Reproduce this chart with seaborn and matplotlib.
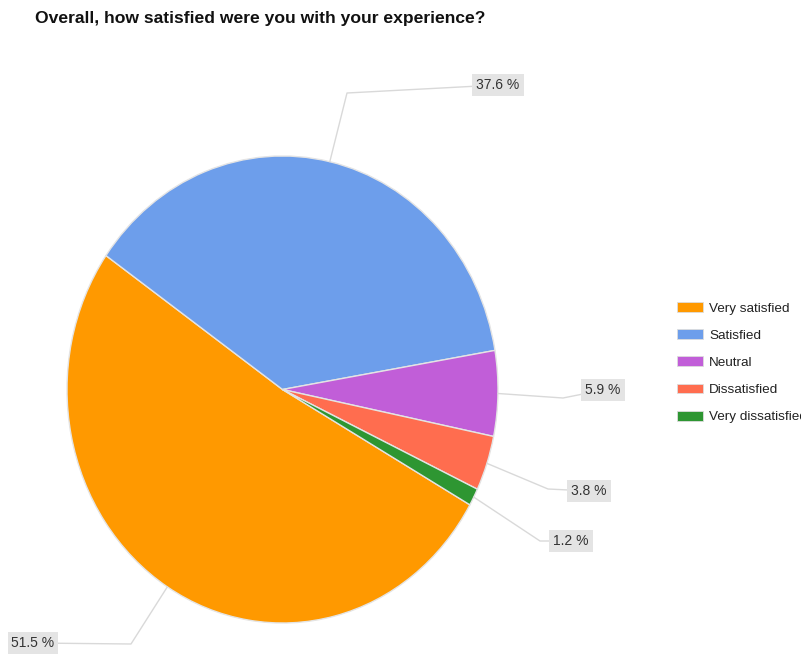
import matplotlib
matplotlib.use("Agg")
import matplotlib.pyplot as plt
import matplotlib.patches as mpatches
import numpy as np
import seaborn as sns

TITLE = "Overall, how satisfied were you with your experience?"
categories = ["Very satisfied", "Satisfied", "Neutral", "Dissatisfied", "Very dissatisfied"]
shares = [51.5, 37.6, 5.9, 3.8, 1.2]
colors = ["#ff9900", "#6d9eeb", "#c15ed8", "#ff6d4f", "#2e9632"]

# boxed label centres and leader-line elbows, in pixels from top-left
label_xy = [(33, 643), (498, 85), (603, 390), (589, 491), (571, 541)]
elbow_xy = [(131, 644), (347, 93), (563, 398), (548, 489), (540, 541)]

W, H = 801, 654
sns.set_theme(style="white")
plt.rcParams["font.family"] = ["Liberation Sans", "DejaVu Sans"]

fig = plt.figure(figsize=(W / 100, H / 100), dpi=100)

# ---------- pie (slightly stretched vertically, like the source) ----------
x0, x1, y0, y1 = 67, 498, 156, 623
ax = fig.add_axes([x0 / W, 1 - y1 / H, (x1 - x0) / W, (y1 - y0) / H])
wedges, _ = ax.pie(shares, colors=colors, startangle=-29.6, counterclock=False,
                   radius=1, wedgeprops=dict(edgecolor="#e4e4e4", linewidth=1))
ax.set_aspect("auto")
ax.set_xlim(-1, 1)
ax.set_ylim(-1, 1)
ax.axis("off")

# ---------- overlay in pixel coords for labels, title, legend ----------
ov = fig.add_axes([0, 0, 1, 1], zorder=5)
ov.set_xlim(0, W)
ov.set_ylim(H, 0)
ov.axis("off")

for w, val, (lx, ly), (ex, ey) in zip(wedges, shares, label_xy, elbow_xy):
    mid = np.deg2rad((w.theta1 + w.theta2) / 2)
    dx, dy = ax.transData.transform((np.cos(mid), np.sin(mid)))
    ov.plot([dx, ex, lx], [H - dy, ey, ly], color="#d9d9d9", lw=1, zorder=1)
    ov.text(lx, ly, f"{val} %", ha="center", va="center", fontsize=10, color="#333333",
            zorder=3, bbox=dict(boxstyle="square,pad=0.28", fc="#e4e4e4", ec="none"))

ov.text(35, 18, TITLE, ha="left", va="center", fontsize=12.6, fontweight="bold", color="#111111")

handles = [mpatches.Patch(facecolor=c, edgecolor="#dddddd", linewidth=0.6, label=l)
           for c, l in zip(colors, categories)]
ov.legend(handles=handles, loc="upper left", bbox_to_anchor=(677, 302),
          bbox_transform=ov.transData, frameon=False, fontsize=9.7,
          handlelength=1.95, handleheight=0.75, handletextpad=0.45,
          labelspacing=1.08, borderpad=0, borderaxespad=0, labelcolor="#222222")

fig.savefig("out.png", dpi=100)
